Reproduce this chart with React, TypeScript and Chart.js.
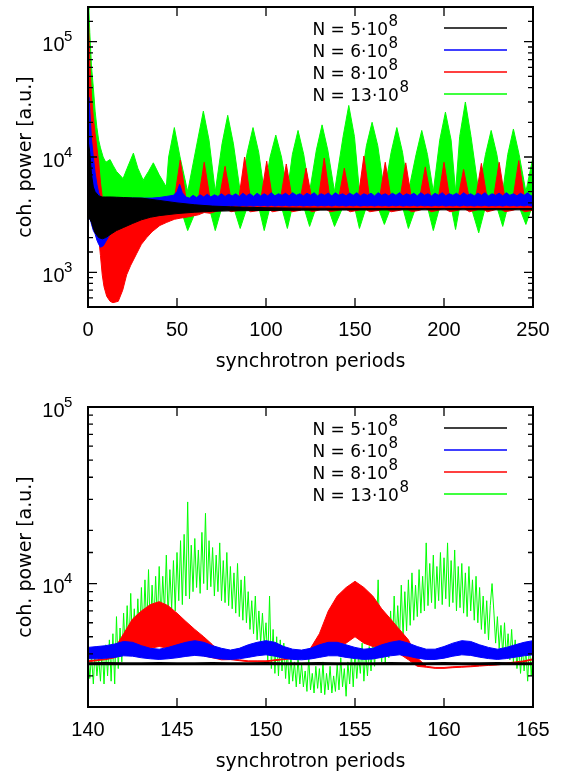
import React, { useEffect, useRef } from 'react';
import { Chart, registerables } from 'chart.js';

Chart.register(...registerables);

const TICK_FONT = "'Liberation Sans', Arial, Helvetica, sans-serif";
const TEXT_FONT = "'DejaVu Sans', Verdana, sans-serif";

/* ---------------- legend / series ---------------- */
const seriesLabels = ['N = 5·10', 'N = 6·10', 'N = 8·10', 'N = 13·10'];
const seriesLabelExp = ['8', '8', '8', '8'];
const seriesColors = ['#000000', '#0000ff', '#ff0000', '#00ff00'];

/* ---------------- axes ---------------- */
const xTitle = 'synchrotron periods';
const yTitle = 'coh. power [a.u.]';
const topXMin = 0;
const topXMax = 250;
const topXStep = 50;
const topYMin = 500;
const topYMax = 200000;
const zoomXMin = 140;
const zoomXMax = 165;
const zoomXStep = 5;
const zoomYMin = 2000;
const zoomYMax = 100000;

/* ---------------- top panel: envelopes (hi / lo) ---------------- */
const topBlackX = [0, 0.3, 1, 2, 3, 4, 6, 8, 10, 13, 16, 20, 25, 30, 35, 40, 50, 60, 70, 80, 100, 120, 150, 200, 250];
const topBlackHi = [9000, 13000, 11000, 7000, 5500, 5000, 4600, 4500, 4500, 4500, 4480, 4450, 4420, 4400, 4300, 4200, 4000, 3850, 3750, 3700, 3630, 3600, 3580, 3570, 3570];
const topBlackLo = [2500, 3000, 2900, 2700, 2400, 2200, 2000, 1950, 2000, 2150, 2300, 2450, 2650, 2850, 3000, 3100, 3230, 3320, 3380, 3410, 3440, 3460, 3470, 3480, 3480];

const topBlueX = [0, 0.5, 1, 1.5, 2, 3, 4, 5, 6, 7, 8.6, 10, 12, 15, 18, 22, 26, 31, 36, 40, 44, 48, 50, 51.5, 53, 55,
  57, 59, 61, 63, 65, 67, 69, 71, 73, 75, 77, 79, 81, 83, 85, 87, 89, 91, 93, 95, 97, 99, 101, 103, 105, 107, 109, 111, 113, 115,
  117, 119, 121, 123, 125, 127, 129, 131, 133, 135, 137, 139, 141, 143, 145, 147, 149, 151, 153, 155, 157, 159, 161, 163, 165, 167,
  169, 171, 173, 175, 177, 179, 181, 183, 185, 187, 189, 191, 193, 195, 197, 199, 201, 203, 205, 207, 209, 211, 213, 215, 217, 219,
  221, 223, 225, 227, 229, 231, 233, 235, 237, 239, 241, 243, 245, 247, 249, 250];
const topBlueHi = [25000, 33000, 26000, 19000, 14000, 10000, 7300, 5800, 4900, 4500, 4400, 4400, 4400, 4400, 4400, 4400, 4400, 4400, 4400, 4450, 4550, 4650, 5000, 5800, 4900, 4500,
  4400, 4650, 4450, 4700, 4500, 4750, 4500, 4700, 4550, 4800,
  4550, 4750, 4600, 4800, 4550, 4850, 4600, 4800, 4550, 4850,
  4600, 4800, 4600, 4900, 4600, 4800, 4650, 4850, 4600, 4900,
  4650, 4800, 4600, 4850, 4650, 4900, 4600, 4800, 4650, 4850,
  4600, 4900, 4650, 4800, 4600, 4850, 4650, 4900, 4600, 4800,
  4650, 4850, 4600, 4900, 4650, 4800, 4600, 4850, 4650, 4900,
  4600, 4800, 4650, 4850, 4600, 4900, 4650, 4800, 4600, 4850,
  4650, 4900, 4600, 4800, 4650, 4850, 4600, 4900, 4650, 4800,
  4600, 4850, 4650, 4900, 4600, 4800, 4650, 4850, 4600, 4900,
  4650, 4800, 4600, 4850, 4650, 4900, 4600, 4700];
const topBlueLo = [3000, 3000, 2900, 2800, 2600, 2300, 2150, 1900, 1750, 1650, 1700, 1850, 2100, 2300, 2500, 2700, 3000, 3300, 3450, 3550, 3600, 3650, 3700, 3700, 3700, 3700,
  3700, 3740, 3710, 3760, 3720, 3770, 3730, 3760, 3740, 3780,
  3740, 3780, 3750, 3790, 3740, 3800, 3750, 3790, 3750, 3800,
  3760, 3800, 3750, 3810, 3760, 3800, 3770, 3810, 3760, 3800,
  3770, 3810, 3760, 3800, 3770, 3820, 3760, 3800, 3770, 3810,
  3760, 3820, 3770, 3800, 3760, 3810, 3770, 3820, 3760, 3800,
  3770, 3810, 3760, 3820, 3770, 3800, 3760, 3810, 3770, 3820,
  3760, 3800, 3770, 3810, 3760, 3820, 3770, 3800, 3760, 3810,
  3770, 3820, 3760, 3800, 3770, 3810, 3760, 3820, 3770, 3800,
  3760, 3810, 3770, 3820, 3760, 3800, 3770, 3810, 3760, 3820,
  3770, 3800, 3760, 3810, 3770, 3820, 3760, 3780];

const topRedX = [0, 0.3, 1, 2, 3, 4, 5, 6, 7, 8, 9, 10.5, 12.4, 14, 17, 19.5, 21.7, 24, 27.3, 30, 33, 36, 40.4, 44, 46.5,
  48.5, 51.8, 55.1, 62, 65.3, 68.6, 73.7, 77, 80.3, 84.7, 88, 91.3, 97.1, 100.4, 103.7, 108.1, 111.4, 114.7,
  119.2, 122.5, 125.8, 129.4, 132.7, 136, 140.7, 144, 147.3, 151.7, 155, 158.3, 163.7, 167, 170.3,
  175.2, 178.5, 181.8, 186.2, 189.5, 192.8, 196.7, 200, 203.3, 207.7, 211, 214.3, 217.7, 221, 224.3,
  227.7, 231, 234.3, 238.7, 242, 245.3, 250];
const topRedHi = [120000, 145000, 70000, 33000, 22000, 16000, 12000, 9000, 6000, 4500, 4200, 4000, 4000, 4000, 4000, 4000, 4000, 4000, 4000, 4000, 4000, 4000, 4000, 4000, 4000,
  4300, 9400, 4300, 4300, 9000, 4300, 4300, 8300, 4300, 4300, 10000, 4300, 4300, 9200, 4300, 4300, 8700, 4300,
  4300, 8000, 4300, 4300, 9800, 4300, 4300, 8000, 4300, 4300, 10200, 4300, 4300, 9000, 4300,
  4300, 8900, 4300, 4300, 8200, 4300, 4300, 9000, 4300, 4300, 7800, 4300, 4300, 8800, 4300,
  4300, 9000, 4300, 4300, 9300, 4300, 4300];
const topRedLo = [3000, 3000, 3000, 3000, 3000, 2900, 2500, 2000, 1400, 950, 750, 620, 560, 545, 560, 700, 950, 1150, 1450, 1750, 2000, 2250, 2550, 2700, 2800,
  2880, 2950, 3000, 3150, 3300, 3250, 3450, 3600, 3350, 3450, 3600, 3350, 3450, 3600, 3350, 3450, 3600, 3350,
  3450, 3600, 3350, 3450, 3600, 3350, 3450, 3600, 3350, 3450, 3600, 3350, 3450, 3600, 3350,
  3450, 3600, 3350, 3450, 3600, 3350, 3450, 3600, 3350, 3450, 3600, 3350, 3450, 3600, 3350,
  3450, 3600, 3350, 3450, 3600, 3350, 3450];

const topGreenX = [0, 0.5, 1, 2, 3, 4, 5, 6, 7, 8.5, 10, 12.4, 14, 16, 19.7, 22, 25.5, 28, 31, 34, 36.7, 40, 44,
  45.3, 48.5, 51.7, 56, 61.6, 64.8, 68, 71.5, 75.3, 78.5, 81.7, 85.5, 89.5, 92.7, 95.9, 99,
  102.3, 105.5, 108.7, 112, 114.8, 118, 121.2, 124.5, 128.3, 131.5, 134.7, 138.5,
  143.3, 146.5, 149.7, 152.5, 156.4, 159.6, 162.8, 166.5, 170.3, 173.5, 176.7, 180,
  184.3, 187.5, 190.7, 194, 197.6, 200.8, 204, 206.5, 208.8, 212, 215.2, 219.5,
  223.3, 226.5, 229.7, 233, 235.8, 239, 242.2, 246, 250];
const topGreenHi = [200000, 190000, 120000, 60000, 40000, 25000, 18000, 14000, 12000, 10000, 9000, 9500, 8500, 7500, 6500, 8000, 10800, 8000, 6300, 7500, 8900, 7000, 5500,
  10000, 18000, 10000, 5000, 14000, 25000, 14000, 5000, 13000, 23000, 13000, 5000, 11000, 18000, 11000, 5000,
  10000, 15500, 10000, 5000, 10500, 17000, 10500, 5000, 11500, 19000, 11500, 5000,
  15000, 28000, 15000, 5000, 12500, 20000, 12500, 5000, 11000, 18000, 11000, 5000,
  10500, 17000, 10500, 5000, 14000, 24500, 14000, 5000, 15000, 30000, 15000, 5000,
  10500, 17000, 10500, 5000, 10500, 17500, 10500, 5000, 10000];
const topGreenLo = [4000, 4000, 4000, 4000, 4000, 4000, 4000, 4000, 4000, 4000, 4000, 4000, 4000, 4000, 4000, 4000, 4000, 4000, 4000, 4000, 4000, 4000, 4000,
  3900, 3900, 3700, 2300, 3700, 3900, 3700, 2300, 3700, 3900, 3700, 2400, 3700, 3900, 3700, 2300,
  3700, 3900, 3700, 2400, 3700, 3900, 3700, 2500, 3700, 3900, 3700, 2500,
  3700, 3900, 3700, 2400, 3700, 3900, 3700, 2600, 3700, 3900, 3700, 2400,
  3700, 3900, 3700, 2300, 3700, 3900, 3700, 2350, 3700, 3900, 3700, 2200,
  3700, 3900, 3700, 2500, 3700, 3900, 3700, 2600, 3900];

/* ---------------- zoom panel (140 – 165) ---------------- */
const zoomBlackStart = 140;
const zoomBlackStep = 1;
const zoomBlack = [3520, 3530, 3510, 3520, 3530, 3520, 3510, 3530, 3520, 3520, 3530, 3510, 3520, 3530, 3520, 3510, 3520, 3530, 3520, 3510, 3530, 3520, 3520, 3530, 3510, 3520];

const zoomBandStart = 140;
const zoomBandStep = 0.5;
const zoomBlueHi = [4350, 4400, 4450, 4550, 4700, 4650, 4450, 4300, 4250, 4350,
  4500, 4650, 4750, 4650, 4450, 4300, 4200, 4300, 4500, 4650,
  4750, 4650, 4400, 4250, 4200, 4300, 4500, 4650, 4650, 4500,
  4350, 4250, 4300, 4500, 4650, 4750, 4600, 4400, 4250, 4250,
  4400, 4600, 4750, 4700, 4500, 4350, 4250, 4350, 4500, 4650,
  4750];
const zoomBlueLo = [3750, 3750, 3780, 3820, 3900, 3880, 3800, 3750, 3720, 3750,
  3800, 3870, 3920, 3880, 3800, 3740, 3720, 3750, 3820, 3900,
  3950, 3880, 3780, 3720, 3700, 3740, 3820, 3900, 3900, 3820,
  3760, 3720, 3740, 3820, 3900, 3950, 3880, 3780, 3720, 3720,
  3780, 3880, 3950, 3920, 3830, 3760, 3720, 3760, 3830, 3900,
  3950];
const zoomRedHi = [3650, 3700, 3750, 4300, 5200, 6300, 7000, 7600, 7900, 7500,
  6800, 6100, 5500, 5000, 4500, 4000, 3750, 3700, 3650, 3650,
  3650, 3700, 3750, 3800, 3900, 4300, 5200, 7000, 8500, 9500,
  10300, 9500, 8500, 7200, 6300, 5500, 4800, 3800, 3400, 3350,
  3350, 3380, 3400, 3420, 3450, 3480, 3500, 3550, 3600, 3650,
  3750];
const zoomRedLo = [3610, 3660, 3710, 3800, 4000, 4100, 4200, 4300, 4400, 4300,
  4200, 4100, 4000, 3900, 3800, 3700, 3710, 3660, 3610, 3610,
  3610, 3660, 3710, 3760, 3800, 3900, 4100, 4300, 4400, 4600,
  5000, 4600, 4400, 4300, 4200, 4000, 3700, 3400, 3360, 3310,
  3310, 3340, 3360, 3380, 3410, 3440, 3460, 3510, 3560, 3610,
  3700];

const zoomGreenStart = 140;
const zoomGreenStep = 0.1;
const zoomGreen = [
  4100, 2900, 3900, 2700, 4300, 3000, 3800, 2800, 4400, 2700,
  4500, 3000, 4800, 2800, 5200, 2700, 6500, 3300, 5600, 3600,
  6800, 4000, 7500, 4200, 8800, 4400, 7200, 4600, 8200, 4800,
  9500, 5000, 10500, 5400, 12000, 5200, 9800, 5800, 11000, 6000,
  12500, 6200, 11000, 6800, 14500, 6400, 12000, 7200, 13500, 7000,
  15000, 8000, 17500, 7600, 19000, 8500, 29000, 8200, 16500, 9000,
  18000, 9500, 15500, 8800, 19500, 10000, 25000, 9200, 17500, 9600,
  16000, 8500, 14500, 9000, 17000, 8000, 13500, 7800, 15000, 7500,
  12500, 7200, 11500, 6800, 13000, 6500, 10500, 6200, 11000, 6000,
  9000, 5500, 8000, 5200, 8500, 4800, 7000, 4600, 6800, 4500,
  6000, 3600, 8500, 3300, 5500, 3100, 5000, 3000, 4800, 3200,
  4600, 2900, 4200, 2700, 3900, 2800, 3600, 2600, 3800, 2700,
  3500, 2600, 3200, 2450, 3800, 2500, 3100, 2400, 3400, 2550,
  3300, 2400, 3600, 2350, 3100, 2500, 3400, 2400, 3000, 2450,
  3500, 2500, 3800, 2600, 3300, 2300, 3600, 2700, 4000, 2600,
  4200, 2900, 3900, 3100, 4600, 2800, 4100, 3000, 4400, 3200,
  4800, 3400, 5200, 10500, 4600, 3600, 5800, 3500, 6200, 3800,
  7000, 4200, 8500, 4500, 7500, 4800, 9800, 5000, 9000, 5400,
  10500, 5800, 11500, 6200, 9800, 6500, 12000, 6800, 11000, 7000,
  17000, 7500, 13000, 7800, 14500, 7200, 12500, 8000, 15000, 7600,
  14000, 8200, 17000, 7400, 13500, 7800, 15500, 7000, 12500, 7300,
  13000, 6800, 11500, 6500, 12500, 7000, 10500, 6200, 11000, 6000,
  9500, 5500, 8500, 5200, 8000, 4800, 7500, 10000, 7000, 4600,
  6500, 4300, 5800, 4000, 6000, 3800, 5200, 3700, 5500, 3600,
  4800, 3300, 4500, 3100, 4400, 3200, 4200, 2800, 4600, 3000,
  4300,
];

/* ---------------- helpers ---------------- */
const pts = (xs: number[], ys: number[]) => xs.map((x, i) => ({ x, y: ys[i] }));
const gridPts = (x0: number, step: number, ys: number[]) => ys.map((y, i) => ({ x: x0 + i * step, y }));

function bandSets(color: string, hi: any[], lo: any[]) {
  return [
    { data: hi, borderColor: color, backgroundColor: color, borderWidth: 1, pointRadius: 0, fill: false },
    { data: lo, borderColor: color, backgroundColor: color, borderWidth: 1, pointRadius: 0, fill: '-1' },
  ];
}

const isPow10 = (v: number) => v > 0 && Math.abs(Math.log10(v) - Math.round(Math.log10(v))) < 1e-9;

const framePlugin = {
  id: 'frame',
  afterDraw(chart: any) {
    const { ctx, chartArea: a } = chart;
    const xs = chart.scales.x;
    const ys = chart.scales.y;
    ctx.save();
    // tick marks (inside, mirrored)
    ctx.strokeStyle = '#000';
    ctx.lineWidth = 1.3;
    ctx.beginPath();
    xs.ticks.forEach((t: any) => {
      const px = xs.getPixelForValue(t.value);
      ctx.moveTo(px, a.bottom);
      ctx.lineTo(px, a.bottom - 9);
      ctx.moveTo(px, a.top);
      ctx.lineTo(px, a.top + 9);
    });
    ys.ticks.forEach((t: any) => {
      const py = ys.getPixelForValue(t.value);
      const len = isPow10(t.value) ? 9 : 5;
      ctx.moveTo(a.left, py);
      ctx.lineTo(a.left + len, py);
      ctx.moveTo(a.right, py);
      ctx.lineTo(a.right - len, py);
    });
    ctx.stroke();
    // frame
    ctx.lineWidth = 2;
    ctx.strokeRect(a.left, a.top, a.right - a.left, a.bottom - a.top);

    // y tick labels 10^n
    ctx.fillStyle = '#000';
    ctx.textBaseline = 'alphabetic';
    ys.ticks.forEach((t: any) => {
      if (!isPow10(t.value)) return;
      const py = ys.getPixelForValue(t.value);
      const e = String(Math.round(Math.log10(t.value)));
      ctx.font = `20px ${TICK_FONT}`;
      ctx.textAlign = 'right';
      ctx.fillText('10', a.left - 23.5, py + 9.5);
      ctx.font = `15px ${TICK_FONT}`;
      ctx.textAlign = 'left';
      ctx.fillText(e, a.left - 24, py - 0.5);
    });

    // legend
    const tx = a.right - 220.5;
    seriesLabels.forEach((lab, i) => {
      const y = a.top + 21 + 22 * i;
      ctx.strokeStyle = seriesColors[i];
      ctx.lineWidth = 1.5;
      ctx.beginPath();
      ctx.moveTo(a.right - 89, y);
      ctx.lineTo(a.right - 26, y);
      ctx.stroke();
      ctx.fillStyle = '#000';
      ctx.textAlign = 'left';
      ctx.font = `17px ${TEXT_FONT}`;
      ctx.fillText(lab, tx, y + 7);
      const w = ctx.measureText(lab).width;
      ctx.font = `15px ${TEXT_FONT}`;
      ctx.fillText(seriesLabelExp[i], tx + w + 0.5, y - 2.5);
    });
    ctx.restore();
  },
};

function makeConfig(datasets: any[], xMin: number, xMax: number, xStep: number, yMin: number, yMax: number, padTop: number) {
  return {
    type: 'line',
    data: { datasets },
    options: {
      animation: false,
      responsive: false,
      maintainAspectRatio: false,
      events: [],
      parsing: false,
      layout: { padding: { left: 0, right: 28, top: padTop, bottom: 0 } },
      elements: { point: { radius: 0 }, line: { tension: 0 } },
      plugins: { legend: { display: false }, tooltip: { enabled: false } },
      scales: {
        x: {
          type: 'linear',
          min: xMin,
          max: xMax,
          afterFit: (s: any) => { s.height = 73; },
          ticks: { stepSize: xStep, color: '#000', font: { family: TICK_FONT, size: 20 }, padding: 11, maxRotation: 0, autoSkip: false },
          grid: { display: false, drawTicks: false },
          border: { display: false },
          title: { display: true, text: xTitle, color: '#000', font: { family: TEXT_FONT, size: 19 }, padding: { top: 0, bottom: 7 } },
        },
        y: {
          type: 'logarithmic',
          min: yMin,
          max: yMax,
          afterFit: (s: any) => { s.width = 88; },
          ticks: { display: false },
          grid: { display: false, drawTicks: false },
          border: { display: false },
          title: { display: true, text: yTitle, color: '#000', font: { family: TEXT_FONT, size: 19 }, padding: { top: 15, bottom: 0 } },
        },
      },
    },
    plugins: [framePlugin],
  };
}

function buildTop() {
  const datasets = [
    ...bandSets(seriesColors[0], pts(topBlackX, topBlackHi), pts(topBlackX, topBlackLo)),
    ...bandSets(seriesColors[1], pts(topBlueX, topBlueHi), pts(topBlueX, topBlueLo)),
    ...bandSets(seriesColors[2], pts(topRedX, topRedHi), pts(topRedX, topRedLo)),
    ...bandSets(seriesColors[3], pts(topGreenX, topGreenHi), pts(topGreenX, topGreenLo)),
  ];
  return makeConfig(datasets, topXMin, topXMax, topXStep, topYMin, topYMax, 7);
}

function buildZoom() {
  const datasets = [
    { data: gridPts(zoomBlackStart, zoomBlackStep, zoomBlack), borderColor: seriesColors[0], borderWidth: 3, pointRadius: 0, fill: false },
    ...bandSets(seriesColors[1], gridPts(zoomBandStart, zoomBandStep, zoomBlueHi), gridPts(zoomBandStart, zoomBandStep, zoomBlueLo)),
    ...bandSets(seriesColors[2], gridPts(zoomBandStart, zoomBandStep, zoomRedHi), gridPts(zoomBandStart, zoomBandStep, zoomRedLo)),
    { data: gridPts(zoomGreenStart, zoomGreenStep, zoomGreen), borderColor: seriesColors[3], borderWidth: 1, pointRadius: 0, fill: false },
  ];
  return makeConfig(datasets, zoomXMin, zoomXMax, zoomXStep, zoomYMin, zoomYMax, 27);
}

function Panel({ top, height, build }: { top: number; height: number; build: () => any }) {
  const ref = useRef<HTMLCanvasElement | null>(null);
  useEffect(() => {
    if (!ref.current) return;
    const chart = new Chart(ref.current, build());
    return () => chart.destroy();
  }, [build]);
  return (
    <canvas
      ref={ref}
      width={561}
      height={height}
      style={{ position: 'absolute', left: 0, top, width: 561, height }}
    />
  );
}

export default function App() {
  return (
    <div style={{ position: 'fixed', left: 0, top: 0, width: 561, height: 773, background: '#fff', overflow: 'hidden' }}>
      <Panel top={0} height={380} build={buildTop} />
      <Panel top={380} height={400} build={buildZoom} />
    </div>
  );
}
